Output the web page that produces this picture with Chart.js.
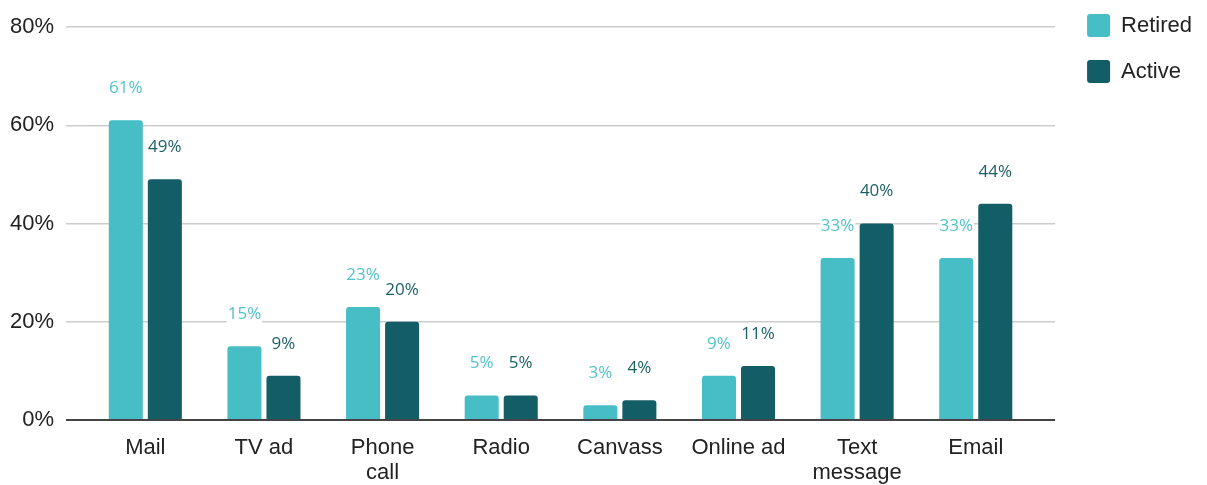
<!DOCTYPE html>
<html>
<head>
<meta charset="utf-8">
<script src="https://cdn.jsdelivr.net/npm/chart.js@4"></script>
<style>
  html, body { margin: 0; padding: 0; background: #fff; }
  #chart_box { width: 1207px; height: 485px; }
</style>
</head>
<body>
<div id="chart_box"><canvas id="contact_chart"></canvas></div>
<script>
categories = ["Mail", "TV ad", ["Phone", "call"], "Radio", "Canvass", "Online ad", ["Text", "message"], "Email"];
retired_values = [61, 15, 23, 5, 3, 9, 33, 33];
active_values = [49, 9, 20, 5, 4, 11, 40, 44];
series_names = ["Retired", "Active"];
y_ticks = [0, 20, 40, 60, 80];

bar_colors = ["#47bdc6", "#135e66"];
label_colors = ["#52c2cb", "#1b5f66"];

Chart.defaults.font.family = "'Liberation Sans', Arial, sans-serif";
Chart.defaults.color = "#222";

// grid colour: dark baseline at zero, light gray elsewhere
function grid_color(ctx) { return ctx.tick && ctx.tick.value === 0 ? "#444" : "#cccccc"; }
function grid_width(ctx) { return ctx.tick && ctx.tick.value === 0 ? 2 : 1.5; }

// values written above each bar
const value_labels = {
    id: "value_labels",
    afterDatasetsDraw(chart) {
        const ctx = chart.ctx;
        ctx.save();
        ctx.font = "17px 'Open Sans'";
        ctx.textAlign = "center";
        ctx.textBaseline = "middle";
        chart.data.datasets.forEach((ds, i) => {
            chart.getDatasetMeta(i).data.forEach((bar, j) => {
                const text = ds.data[j] + "%";
                const w = ctx.measureText(text).width;
                const y = bar.y - 32;
                ctx.fillStyle = "#fff";
                ctx.fillRect(bar.x - w / 2 - 1, y - 10, w + 2, 20);
                ctx.fillStyle = label_colors[i];
                ctx.fillText(text, bar.x, y);
            });
        });
        ctx.restore();
    }
};

// pull the legend up a little closer to the top edge
const legend_nudge = {
    id: "legend_nudge",
    afterLayout(chart) {
        chart.legend.top -= 9;
        chart.legend.bottom -= 9;
    }
};

contact_chart = new Chart(document.getElementById("contact_chart").getContext("2d"), {
    type: "bar",
    data: {
        labels: categories,
        datasets: [{
            label: series_names[0],
            data: retired_values,
            backgroundColor: bar_colors[0],
            borderRadius: 3,
            categoryPercentage: 0.658,
            barPercentage: 0.872
        }, {
            label: series_names[1],
            data: active_values,
            backgroundColor: bar_colors[1],
            borderRadius: 3,
            categoryPercentage: 0.658,
            barPercentage: 0.872
        }]
    },
    options: {
        responsive: true,
        maintainAspectRatio: false,
        animation: false,
        layout: { padding: { left: 0, right: 5, top: 0, bottom: 0 } },
        plugins: {
            tooltip: { enabled: false },
            legend: {
                position: "right",
                align: "start",
                labels: {
                    boxWidth: 23,
                    boxHeight: 23,
                    padding: 23,
                    useBorderRadius: true,
                    borderRadius: 3,
                    color: "#222",
                    font: { size: 22 }
                }
            }
        },
        scales: {
            x: {
                grid: { display: false },
                border: { display: false },
                ticks: {
                    font: { size: 22, lineHeight: 1.14 },
                    color: "#222",
                    padding: 7,
                    maxRotation: 0,
                    autoSkip: false
                },
                afterFit(scale) { scale.height = 65; }
            },
            x_top: {
                type: "category",
                position: "top",
                grid: { display: false },
                border: { display: false },
                ticks: { display: false },
                afterFit(scale) { scale.height = 27; }
            },
            y: {
                min: y_ticks[0],
                max: y_ticks[y_ticks.length - 1],
                ticks: {
                    stepSize: y_ticks[1] - y_ticks[0],
                    callback: v => v + "%",
                    font: { size: 22 },
                    color: "#222",
                    padding: 12
                },
                grid: { color: grid_color, lineWidth: grid_width, tickLength: 20 },
                border: { display: false },
                afterFit(scale) { scale.width = 86; }
            },
            y_right: {
                position: "right",
                min: y_ticks[0],
                max: y_ticks[y_ticks.length - 1],
                ticks: { display: false, stepSize: y_ticks[1] - y_ticks[0] },
                grid: { drawOnChartArea: false, color: grid_color, lineWidth: grid_width, tickLength: 20 },
                border: { display: false },
                afterFit(scale) { scale.width = 29; }
            }
        }
    },
    plugins: [value_labels, legend_nudge]
});
</script>
</body>
</html>
